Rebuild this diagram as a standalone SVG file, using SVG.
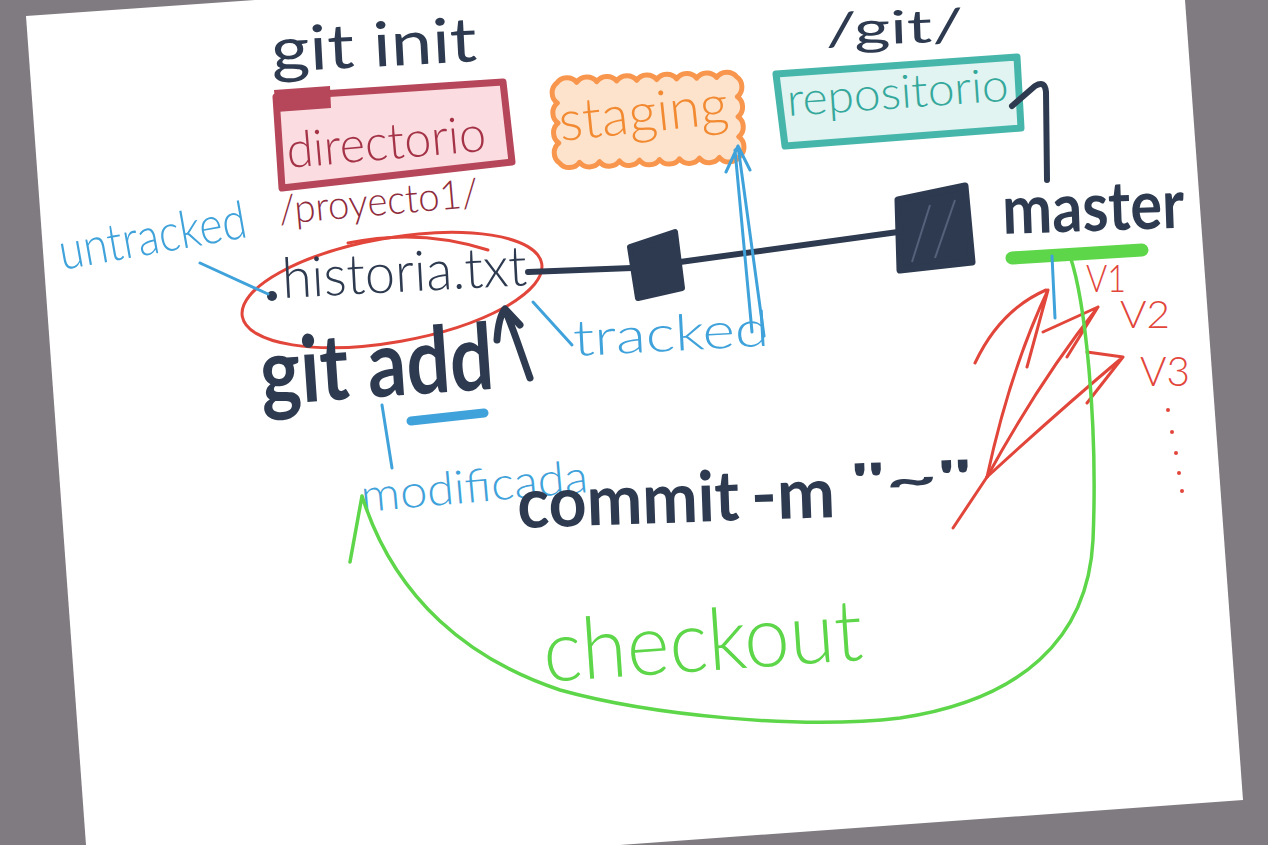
<svg xmlns="http://www.w3.org/2000/svg" width="1268" height="845" viewBox="0 0 1268 845">
<defs>
<style>
.ink{fill:none;stroke-linecap:round;stroke-linejoin:round}
.dark{stroke:#2d3a4f}
.red{stroke:#e2463b}
.blue{stroke:#3fa2da}
.green{stroke:#5ed64a}
.t{font-family:Lato,"Liberation Sans",sans-serif}
.thin{font-weight:300}
.reg{font-weight:normal}
.bold{font-weight:bold}
</style>
</defs>
<rect width="1268" height="845" fill="#807b80"/>
<polygon points="26,16 255,0 1185,0 1243,800 620,845 86,845" fill="#ffffff"/>

<g id="gitinit">
<text class="t reg" x="272" y="72" font-size="62" fill="#2d3a4f" textLength="206" lengthAdjust="spacingAndGlyphs" transform="rotate(-3 272 72)">git init</text>
</g>
<g id="gitdir">
<text class="t reg" x="826" y="46" font-size="46" fill="#2d3a4f" textLength="138" lengthAdjust="spacingAndGlyphs" transform="rotate(-2 826 46)">/git/</text>
</g>

<g id="directorio">
<polygon points="276,97 503,82 512,162 282,188" fill="#fbdde1" stroke="#b64659" stroke-width="7" stroke-linejoin="round"/>
<path d="M274,90 L330,86 L331,108 L276,112 Z" fill="#b64659"/>
<text class="t thin" x="288" y="168" font-size="50" fill="#a53347" textLength="200" lengthAdjust="spacingAndGlyphs" transform="rotate(-5 288 168)">directorio</text>
</g>

<g id="staging" transform="rotate(-2 645 118)">
<path d="M558,80 a12,11 0 0,1 20,0 a12,11 0 0,1 20,0 a12,11 0 0,1 20,0 a12,11 0 0,1 20,0 a12,11 0 0,1 20,0 a12,11 0 0,1 20,0 a12,11 0 0,1 20,0 a12,11 0 0,1 20,0 a12,11 0 0,1 20,0 a11,12 0 0,1 0,20 a11,12 0 0,1 0,20 a11,12 0 0,1 0,20 a11,12 0 0,1 0,20 a12,11 0 0,1 -20,0 a12,11 0 0,1 -20,0 a12,11 0 0,1 -20,0 a12,11 0 0,1 -20,0 a12,11 0 0,1 -20,0 a12,11 0 0,1 -20,0 a12,11 0 0,1 -20,0 a12,11 0 0,1 -20,0 a12,11 0 0,1 -20,0 a11,12 0 0,1 0,-20 a11,12 0 0,1 0,-20 a11,12 0 0,1 0,-20 a11,12 0 0,1 0,-20 Z" fill="#fde2cc" stroke="#f7964c" stroke-width="5" stroke-linejoin="round"/>
<text class="t thin" x="560" y="138" font-size="56" fill="#f28a32" textLength="170" lengthAdjust="spacingAndGlyphs" transform="rotate(-4 560 138)">staging</text>
</g>

<g id="repositorio">
<polygon points="776,74 1017,57 1021,128 785,146" fill="#e1f4f2" stroke="#46b6ab" stroke-width="7" stroke-linejoin="round"/>
<text class="t thin" x="788" y="116" font-size="46" fill="#35a89c" textLength="222" lengthAdjust="spacingAndGlyphs" transform="rotate(-4 788 116)">repositorio</text>
</g>

<g id="proyecto">
<text class="t thin" x="280" y="224" font-size="40" fill="#8f2c3d" textLength="200" lengthAdjust="spacingAndGlyphs" transform="rotate(-5 280 224)">/proyecto1/</text>
</g>

<g id="untracked">
<text class="t thin" x="62" y="270" font-size="52" fill="#3fa2da" textLength="190" lengthAdjust="spacingAndGlyphs" transform="rotate(-10 62 270)">untracked</text>
</g>

<g id="historia">
<ellipse cx="392" cy="290" rx="152" ry="52" transform="rotate(-10 392 290)" fill="none" stroke="#e2463b" stroke-width="3"/>
<path class="ink red" stroke-width="3" d="M348,243 Q420,228 488,250"/>
<circle cx="272" cy="296" r="5" fill="#2d3a4f"/>
<text class="t thin" x="283" y="298" font-size="56" fill="#2d3a4f" textLength="245" lengthAdjust="spacingAndGlyphs" transform="rotate(-3 283 298)">historia.txt</text>
</g>

<g id="commit1">
<polygon points="630,247 675,232 682,288 638,298" fill="#2d3a4f" stroke="#2d3a4f" stroke-width="6" stroke-linejoin="round"/>
</g>
<g id="commit2">
<polygon points="898,200 965,186 972,262 900,270" fill="#2d3a4f" stroke="#2d3a4f" stroke-width="7" stroke-linejoin="round"/>
<path d="M912,262 L930,205 M935,258 L955,200" stroke="#55617a" stroke-width="2" fill="none"/>
</g>

<g id="master">
<text class="t bold" x="1003" y="234" font-size="68" fill="#2d3a4f" textLength="182" lengthAdjust="spacingAndGlyphs" transform="rotate(-2 1003 234)">master</text>
<path class="ink green" stroke-width="13" d="M1012,258 L1142,250"/>
</g>

<g id="gitadd">
<text class="t bold" x="262" y="405" font-size="92" fill="#2d3a4f" textLength="234" lengthAdjust="spacingAndGlyphs" transform="rotate(-4 262 405)">git add</text>
<path class="ink blue" stroke-width="9" d="M411,421 L484,413"/>
</g>

<g id="modificada">
<text class="t thin" x="362" y="512" font-size="46" fill="#3fa2da" textLength="228" lengthAdjust="spacingAndGlyphs" transform="rotate(-5 362 512)">modificada</text>
</g>

<g id="tracked">
<text class="t thin" x="574" y="356" font-size="50" fill="#3fa2da" textLength="196" lengthAdjust="spacingAndGlyphs" transform="rotate(-3 574 356)">tracked</text>
</g>

<g id="commitcmd">
<text class="t bold" x="518" y="528" font-size="70" fill="#2d3a4f" transform="rotate(-2 518 528)"><tspan textLength="222" lengthAdjust="spacingAndGlyphs">commit</tspan><tspan x="752" textLength="84" lengthAdjust="spacingAndGlyphs">-m</tspan><tspan x="852" y="510" font-size="48" textLength="122" lengthAdjust="spacingAndGlyphs">"~"</tspan></text>
</g>

<g id="versions">
<text class="t thin" x="1086" y="292" font-size="38" fill="#e2463b" textLength="40" lengthAdjust="spacingAndGlyphs">V1</text>
<text class="t thin" x="1120" y="328" font-size="38" fill="#e2463b" textLength="50" lengthAdjust="spacingAndGlyphs">V2</text>
<text class="t thin" x="1140" y="386" font-size="42" fill="#e2463b" textLength="50" lengthAdjust="spacingAndGlyphs">V3</text>
<g fill="#e2463b"><circle cx="1168" cy="410" r="2"/><circle cx="1172" cy="432" r="2"/><circle cx="1176" cy="453" r="2"/><circle cx="1179" cy="473" r="2"/><circle cx="1182" cy="491" r="2"/></g>
</g>

<g id="checkout">
<text class="t thin" x="545" y="682" font-size="86" fill="#5ed64a" textLength="320" lengthAdjust="spacingAndGlyphs" transform="rotate(-4 545 682)">checkout</text>
</g>

<g id="connectors">
<path class="ink dark" stroke-width="6" d="M528,272 L632,268 M680,262 L898,232"/>
<path class="ink dark" stroke-width="6" d="M1047,180 L1046,92 Q1045,80 1035,86 L1012,106"/>
<path class="ink dark" stroke-width="7" d="M530,378 C520,350 512,325 505,310 M497,340 C498,325 500,315 505,309 L520,325"/>
<path class="ink blue" stroke-width="3" d="M200,263 L268,294"/>
<path class="ink blue" stroke-width="3" d="M382,405 L392,468"/>
<path class="ink blue" stroke-width="3" d="M533,302 L572,345"/>
<path class="ink blue" stroke-width="3" d="M764,336 L738,146 M752,332 L735,150 M738,146 L726,172 M738,146 L750,170"/>
<path class="ink blue" stroke-width="3" d="M1052,256 L1055,318"/>
<path class="ink red" stroke-width="3" d="M987,477 Q1010,370 1048,290 M975,363 Q1000,310 1046,290 M1048,290 L1027,367"/>
<path class="ink red" stroke-width="3" d="M987,477 Q1040,380 1098,307 M1043,332 L1098,307 L1067,357"/>
<path class="ink red" stroke-width="3" d="M987,477 Q1060,410 1123,357 M1087,352 L1123,357 L1087,403"/>
<path class="ink red" stroke-width="3" d="M987,477 L953,528"/>
<path class="ink green" stroke-width="3.5" d="M1070,256 C1085,300 1098,420 1093,540 C1088,640 1020,700 900,718 C800,730 650,715 560,690 C470,660 395,600 362,496 M362,496 L350,562"/>
</g>
</svg>
